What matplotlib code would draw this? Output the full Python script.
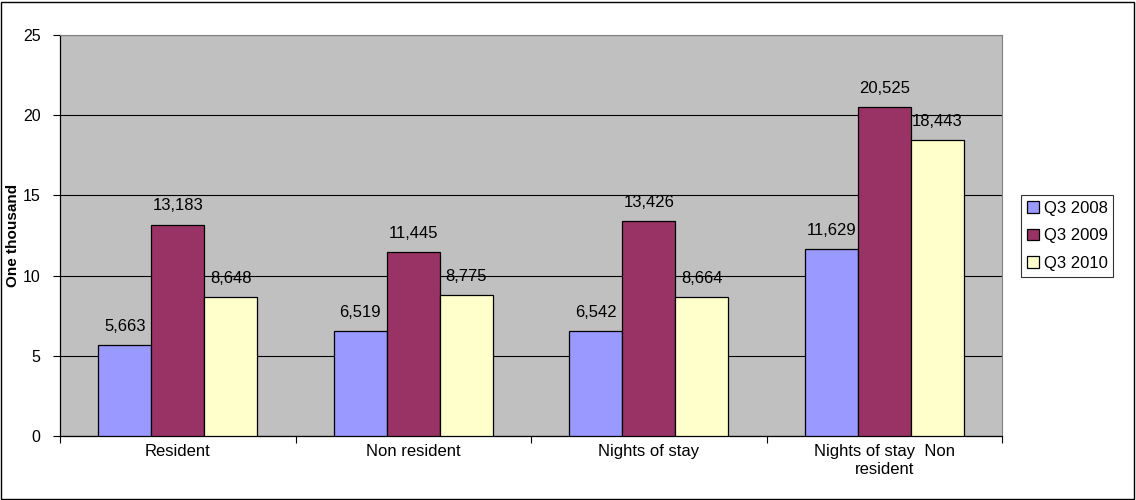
import matplotlib
matplotlib.use("Agg")
import matplotlib.pyplot as plt
from matplotlib.patches import Rectangle
import numpy as np

categories = ["Resident", "Non resident", "Nights of stay", "Nights of stay  Non\nresident"]
series_names = ["Q3 2008", "Q3 2009", "Q3 2010"]
q3_2008 = [5.663, 6.519, 6.542, 11.629]
q3_2009 = [13.183, 11.445, 13.426, 20.525]
q3_2010 = [8.648, 8.775, 8.664, 18.443]
yticks = [0, 5, 10, 15, 20, 25]

colors = ["#9999FF", "#993366", "#FFFFCC"]

plt.rcParams['font.family'] = ['Liberation Sans', 'DejaVu Sans']

fig = plt.figure(figsize=(11.36, 5.0), dpi=100)
fig.patch.set_facecolor("white")
fig.add_artist(Rectangle((0.001, 0.002), 0.997, 0.995, transform=fig.transFigure,
                         fill=False, edgecolor="black", linewidth=1.0))

ax = fig.add_axes([60/1136, 1-436/500, (1002-60)/1136, (436-35)/500])
ax.set_facecolor("#C0C0C0")

x = np.arange(len(categories))
w = 0.225
for i, (vals, name) in enumerate(zip([q3_2008, q3_2009, q3_2010], series_names)):
    pos = x + (i - 1) * w
    ax.bar(pos, vals, width=w, color=colors[i], edgecolor="black", linewidth=0.9,
           label=name, zorder=3)
    for p, v in zip(pos, vals):
        ax.annotate(f"{int(round(v*1000)):,}", (p, v), xytext=(0, 8), textcoords="offset points",
                    ha="center", va="bottom", fontsize=12, zorder=4)

ax.set_xlim(-0.5, len(categories) - 0.5)
ax.set_ylim(0, 25)
ax.set_yticks(yticks)
ax.set_yticklabels([str(t) for t in yticks], fontsize=11.5)
ax.yaxis.grid(True, color="black", linewidth=0.8, zorder=1)
ax.set_axisbelow(True)
ax.tick_params(axis="y", direction="out", length=5, width=0.8, pad=9)

ax.set_xticks(x)
ax.set_xticklabels(categories, fontsize=12)
ax.tick_params(axis="x", which="major", length=0, pad=6)
ax.set_xticks(np.arange(-0.5, len(categories), 1.0), minor=True)
ax.tick_params(axis="x", which="minor", direction="out", length=5, width=0.8)

for s in ["top", "right"]:
    ax.spines[s].set_color("#808080")
    ax.spines[s].set_linewidth(0.8)
for s in ["left", "bottom"]:
    ax.spines[s].set_color("black")
    ax.spines[s].set_linewidth(0.9)

ax.set_ylabel("One thousand", fontsize=11, fontweight="bold")
ax.yaxis.set_label_coords(-0.042, 0.5)

leg = fig.legend(loc="upper left", bbox_to_anchor=(1021/1136, 1-195/500), fontsize=12,
                 frameon=True, fancybox=False, edgecolor="black", handlelength=0.7,
                 handleheight=0.7, handletextpad=0.3, borderpad=0.35, labelspacing=0.75,
                 borderaxespad=0)
leg.get_frame().set_linewidth(0.8)

fig.savefig("out.png", dpi=100)
